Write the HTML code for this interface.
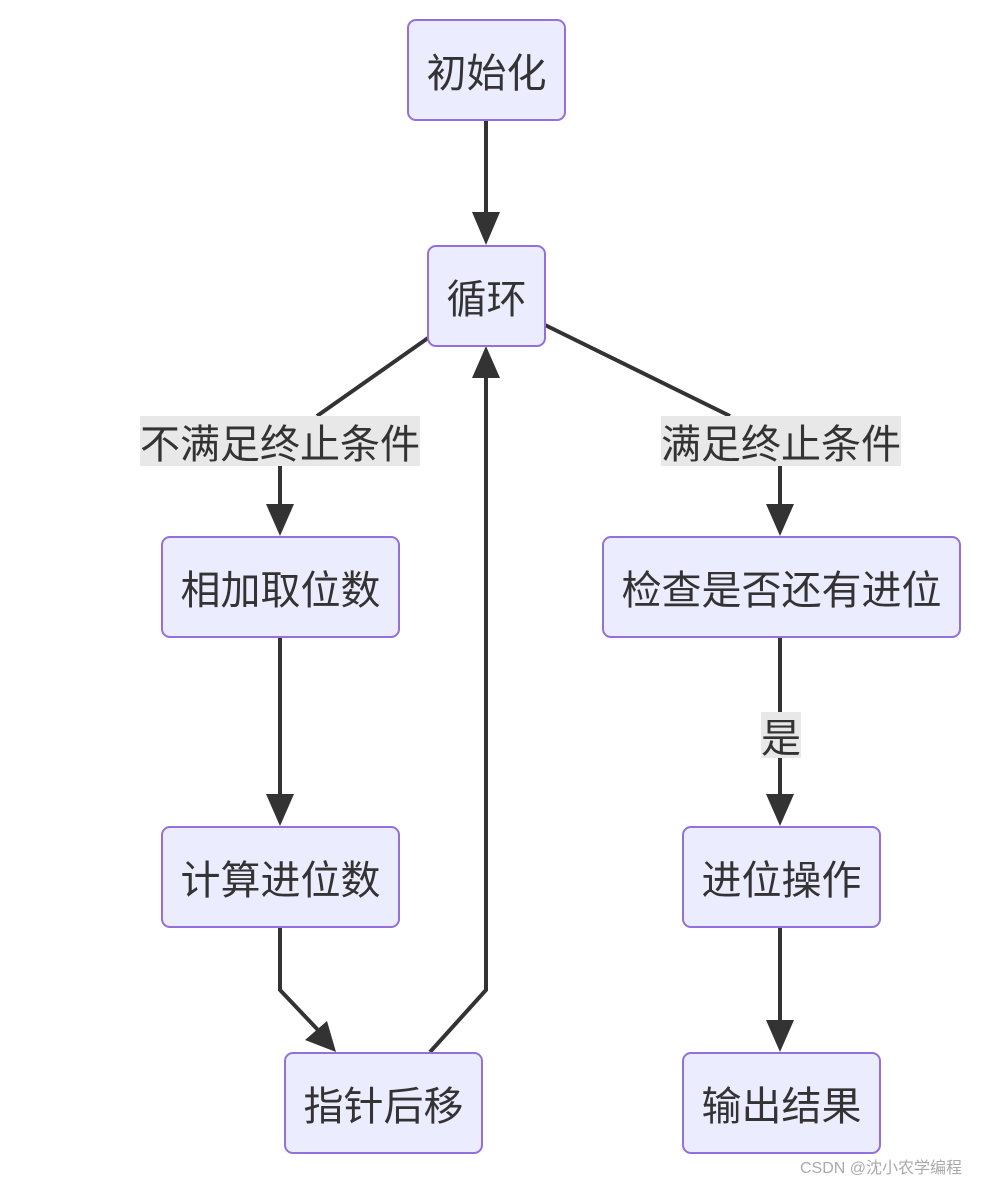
<!DOCTYPE html>
<html><head><meta charset="utf-8"><style>
body{margin:0;width:989px;height:1182px;background:#fff;overflow:hidden;position:relative;font-family:"Liberation Sans","Noto Sans CJK SC",sans-serif}
.n{position:absolute;box-sizing:border-box;background:#ECECFF;border:2px solid #9370DB;border-radius:9px;display:flex;align-items:center;justify-content:center;font-size:40px;color:#333}
.l{position:absolute;background:#e8e8e8;font-size:40px;color:#333;display:flex;align-items:center;justify-content:center;white-space:nowrap}
svg{position:absolute;left:0;top:0}
</style></head><body>
<svg width="989" height="1182">
<g stroke="#333" stroke-width="4" fill="none">
<path d="M486,120V214"/><path d="M472,212L486,245L500,212z" fill="#333" stroke="none"/>
<path d="M428,338L317,416"/>
<path d="M280,466V506"/><path d="M266,504L280,536L294,504z" fill="#333" stroke="none"/>
<path d="M545,325L730,416"/>
<path d="M780,466V506"/><path d="M766,504L780,536L794,504z" fill="#333" stroke="none"/>
<path d="M280,637V796"/><path d="M266,794L280,826L294,794z" fill="#333" stroke="none"/>
<path d="M280,927V990L318,1030"/><path d="M305,1040L336,1052L327,1021z" fill="#333" stroke="none"/>
<path d="M430,1052L486,990V376"/><path d="M472,378L486,346L500,378z" fill="#333" stroke="none"/>
<path d="M780,637V712"/><path d="M780,758V796"/><path d="M766,794L780,826L794,794z" fill="#333" stroke="none"/>
<path d="M780,927V1022"/><path d="M766,1020L780,1052L794,1020z" fill="#333" stroke="none"/>
</g></svg>
<div class="n" style="left:407px;top:19px;width:159px;height:102px">初始化</div>
<div class="n" style="left:427px;top:245px;width:119px;height:102px">循环</div>
<div class="n" style="left:161px;top:536px;width:239px;height:102px">相加取位数</div>
<div class="n" style="left:602px;top:536px;width:359px;height:102px">检查是否还有进位</div>
<div class="n" style="left:161px;top:826px;width:239px;height:102px">计算进位数</div>
<div class="n" style="left:682px;top:826px;width:199px;height:102px">进位操作</div>
<div class="n" style="left:284px;top:1052px;width:199px;height:102px">指针后移</div>
<div class="n" style="left:682px;top:1052px;width:199px;height:102px">输出结果</div>
<div class="l" style="left:140px;top:416px;width:280px;height:50px">不满足终止条件</div>
<div class="l" style="left:661px;top:416px;width:240px;height:50px">满足终止条件</div>
<div class="l" style="left:761px;top:712px;width:40px;height:46px">是</div>
<div style="position:absolute;left:800px;top:1154px;font-size:16px;color:#aaa;white-space:nowrap">CSDN @沈小农学编程</div>
</body></html>
